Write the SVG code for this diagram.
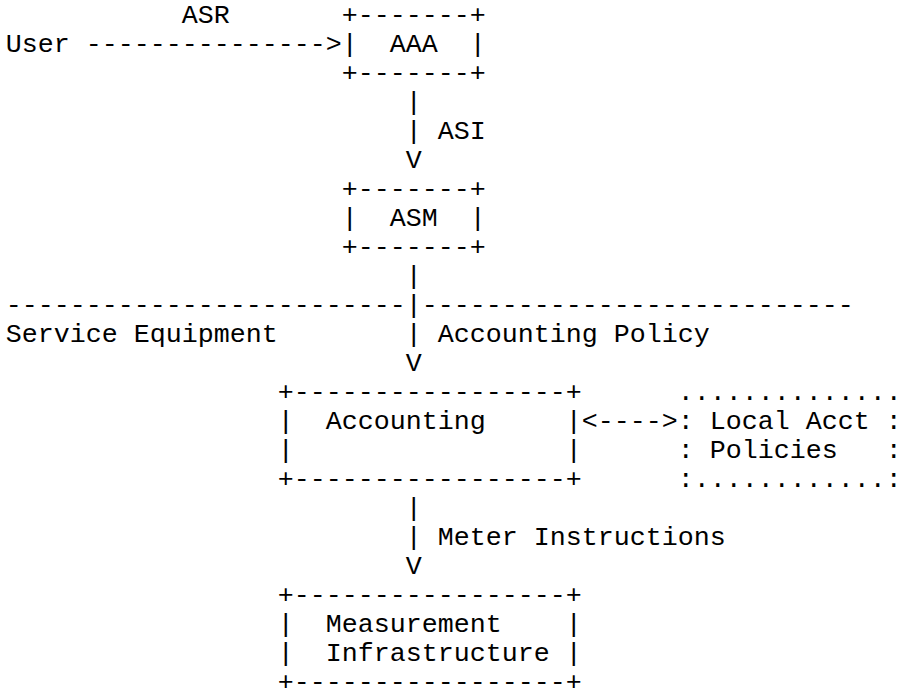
<svg xmlns="http://www.w3.org/2000/svg" width="902" height="698" viewBox="0 0 902 698">
<style>
text{font-family:"Liberation Mono","Courier New",monospace;font-size:26.67px;fill:#000;white-space:pre}
</style>
<rect width="902" height="698" fill="#fff"/>
<g id="user"><text x="5.8" y="52">User</text></g>
<g id="aaa">
<text x="341.8" y="23">+-------+</text>
<text x="341.8" y="52" xml:space="preserve">|  AAA  |</text>
<text x="341.8" y="81">+-------+</text>
</g>
<g id="asm">
<text x="341.8" y="197">+-------+</text>
<text x="341.8" y="226" xml:space="preserve">|  ASM  |</text>
<text x="341.8" y="255">+-------+</text>
</g>
<g id="accounting">
<text x="277.8" y="400">+-----------------+</text>
<text x="277.8" y="429" xml:space="preserve">|  Accounting     |</text>
<text x="277.8" y="458" xml:space="preserve">|                 |</text>
<text x="277.8" y="487">+-----------------+</text>
</g>
<g id="local-acct-policies">
<text x="677.8" y="400">..............</text>
<text x="677.8" y="429" xml:space="preserve">: Local Acct :</text>
<text x="677.8" y="458" xml:space="preserve">: Policies   :</text>
<text x="677.8" y="487">:............:</text>
</g>
<g id="measurement">
<text x="277.8" y="603">+-----------------+</text>
<text x="277.8" y="632" xml:space="preserve">|  Measurement    |</text>
<text x="277.8" y="661" xml:space="preserve">|  Infrastructure |</text>
<text x="277.8" y="690">+-----------------+</text>
</g>
<g id="boundary">
<text x="5.8" y="313">-------------------------</text>
<text x="421.8" y="313">---------------------------</text>
<text x="5.8" y="342">Service Equipment</text>
</g>
<g id="connectors">
<text x="181.8" y="23">ASR</text>
<text x="85.8" y="52">---------------&gt;</text>
<text x="405.8" y="110">|</text>
<text x="405.8" y="139" xml:space="preserve">| ASI</text>
<text x="405.8" y="168">V</text>
<text x="405.8" y="284">|</text>
<text x="405.8" y="313">|</text>
<text x="405.8" y="342" xml:space="preserve">| Accounting Policy</text>
<text x="405.8" y="371">V</text>
<text x="581.8" y="429">&lt;----&gt;</text>
<text x="405.8" y="516">|</text>
<text x="405.8" y="545" xml:space="preserve">| Meter Instructions</text>
<text x="405.8" y="574">V</text>
</g>
</svg>
